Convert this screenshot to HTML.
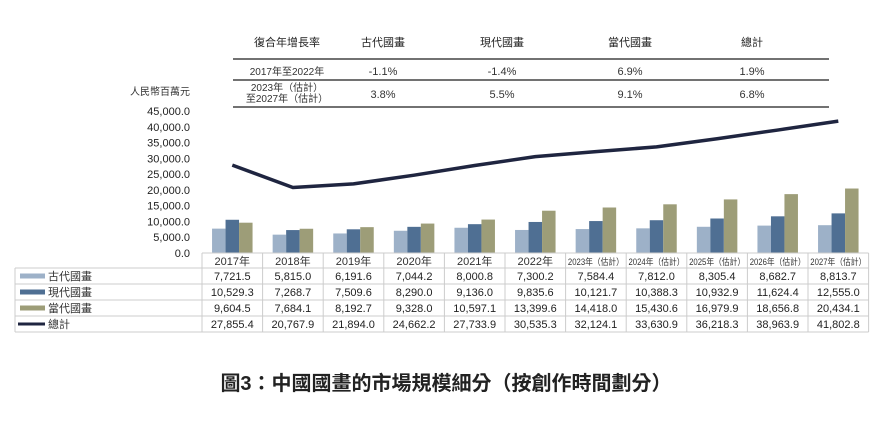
<!DOCTYPE html>
<html><head><meta charset="utf-8"><style>
body{margin:0;background:#fff;width:892px;height:420px;overflow:hidden;font-family:"Liberation Sans","Noto Sans CJK TC",sans-serif;}
svg text{font-family:"Liberation Sans","Noto Sans CJK TC",sans-serif;}
</style></head><body>
<svg width="892" height="420">
<g id="cagr"></g>
<g id="axis"></g>
<g id="bars"></g>
<g id="line"></g>
<g id="table"></g>
<text x="446" y="390" text-anchor="middle" font-size="20" font-weight="bold" fill="#222">圖3：中國國畫的市場規模細分（按創作時間劃分）</text>
</svg>
<script>
const categories=["2017年","2018年","2019年","2020年","2021年","2022年","2023年（估計）","2024年（估計）","2025年（估計）","2026年（估計）","2027年（估計）"];
const ancient=[7721.5,5815.0,6191.6,7044.2,8000.8,7300.2,7584.4,7812.0,8305.4,8682.7,8813.7];
const modern=[10529.3,7268.7,7509.6,8290.0,9136.0,9835.6,10121.7,10388.3,10932.9,11624.4,12555.0];
const contemporary=[9604.5,7684.1,8192.7,9328.0,10597.1,13399.6,14418.0,15430.6,16979.9,18656.8,20434.1];
const total=[27855.4,20767.9,21894.0,24662.2,27733.9,30535.3,32124.1,33630.9,36218.3,38963.9,41802.8];
const yTicks=[0,5000,10000,15000,20000,25000,30000,35000,40000,45000];
const cagrHeaders=["復合年增長率","古代國畫","現代國畫","當代國畫","總計"];
const cagr1=["2017年至2022年","-1.1%","-1.4%","6.9%","1.9%"];
const cagr2=["2023年（估計）\n至2027年（估計）","3.8%","5.5%","9.1%","6.8%"];

const NS="http://www.w3.org/2000/svg";
function mk(tag,attrs,parent,txt){const e=document.createElementNS(NS,tag);for(const k in attrs)e.setAttribute(k,attrs[k]);if(txt!==undefined)e.textContent=txt;parent.appendChild(e);return e;}
const x0=202,colW=60.6,yBase=253,yTop=111,yMax=45000;
const y=v=>yBase-(v/yMax)*(yBase-yTop);
const xc=i=>x0+colW*(i+0.5);

const cg=document.getElementById('cagr');
const cx=[287,383,502,630,752];
cagrHeaders.forEach((h,i)=>{const t=mk('text',{x:cx[i],y:46,'text-anchor':'middle','font-size':11,fill:'#222'},cg,h);

});
[59,80,107].forEach(p=>{mk('line',{x1:233,x2:829,y1:p,y2:p,stroke:'#444','stroke-width':1.5},cg);});
cagr1.forEach((v,i)=>{const t=mk('text',{x:cx[i],y:75,'text-anchor':'middle','font-size':i?11:10,fill:'#333'},cg,v);

});
cagr2.forEach((v,i)=>{
 if(i===0){const a=v.split('\n');mk('text',{x:cx[0],y:91,'text-anchor':'middle','font-size':10,fill:'#333'},cg,a[0]);mk('text',{x:cx[0],y:102,'text-anchor':'middle','font-size':10,fill:'#333'},cg,a[1]);}
 else{const t=mk('text',{x:cx[i],y:98,'text-anchor':'middle','font-size':11,fill:'#333'},cg,v);
 
 }
});
mk('text',{x:190,y:95,'text-anchor':'end','font-size':10,fill:'#333'},cg,'人民幣百萬元');

const ax=document.getElementById('axis');
yTicks.forEach(v=>{const t=mk('text',{x:190,y:y(v)+4,'text-anchor':'end','font-size':11,fill:'#222'},ax,v.toLocaleString('en-US',{minimumFractionDigits:1}));

});

const colors=["#9db1c8","#4f6f93","#9d9d78"];
const series=[ancient,modern,contemporary];
const bw=13.5;
const bg=document.getElementById('bars');
series.forEach((s,si)=>s.forEach((v,i)=>{
 const r=mk('rect',{x:xc(i)-bw*1.5+si*bw,y:y(v),width:bw,height:yBase-y(v),fill:colors[si]},bg);
 
 
}));

const lg=document.getElementById('line');
const pl=mk('polyline',{points:total.map((v,i)=>xc(i)+','+y(v)).join(' '),fill:'none',stroke:'#1f2540','stroke-width':3.5,'stroke-linejoin':'round'},lg);



const tg=document.getElementById('table');
const rowY=[253,268,284,300,316,332];
const gc='#ccc';
mk('line',{x1:x0,x2:x0+colW*11,y1:253,y2:253,stroke:gc},tg);
for(let r=1;r<6;r++)mk('line',{x1:15,x2:x0+colW*11,y1:rowY[r],y2:rowY[r],stroke:gc},tg);
mk('line',{x1:15,x2:15,y1:268,y2:332,stroke:gc},tg);
for(let i=0;i<=11;i++)mk('line',{x1:x0+colW*i,x2:x0+colW*i,y1:253,y2:332,stroke:gc},tg);
categories.forEach((c,i)=>{
 const attrs={x:xc(i),y:265,'text-anchor':'middle','font-size':c.length>5?9:11,fill:'#333'};
 if(c.length>5){attrs.textLength=56;attrs.lengthAdjust='spacingAndGlyphs';}
 const t=mk('text',attrs,tg,c);
 
 });
const names=["古代國畫","現代國畫","當代國畫","總計"];
const allS=[ancient,modern,contemporary,total];
names.forEach((n,r)=>{
 const cy=(rowY[r+1]+rowY[r+2])/2;
 if(r<3)mk('rect',{x:20,y:cy-2.5,width:25,height:5,fill:colors[r]},tg);
 else mk('rect',{x:18,y:cy-1.5,width:27,height:3,fill:'#1f2540'},tg);
 const t=mk('text',{x:48,y:cy+4,'font-size':11,fill:'#333'},tg,n);
 
 
 allS[r].forEach((v,i)=>{mk('text',{x:xc(i),y:cy+4,'text-anchor':'middle','font-size':11,fill:'#222'},tg,v.toLocaleString('en-US',{minimumFractionDigits:1,maximumFractionDigits:1}));});
});
</script>
</body></html>
